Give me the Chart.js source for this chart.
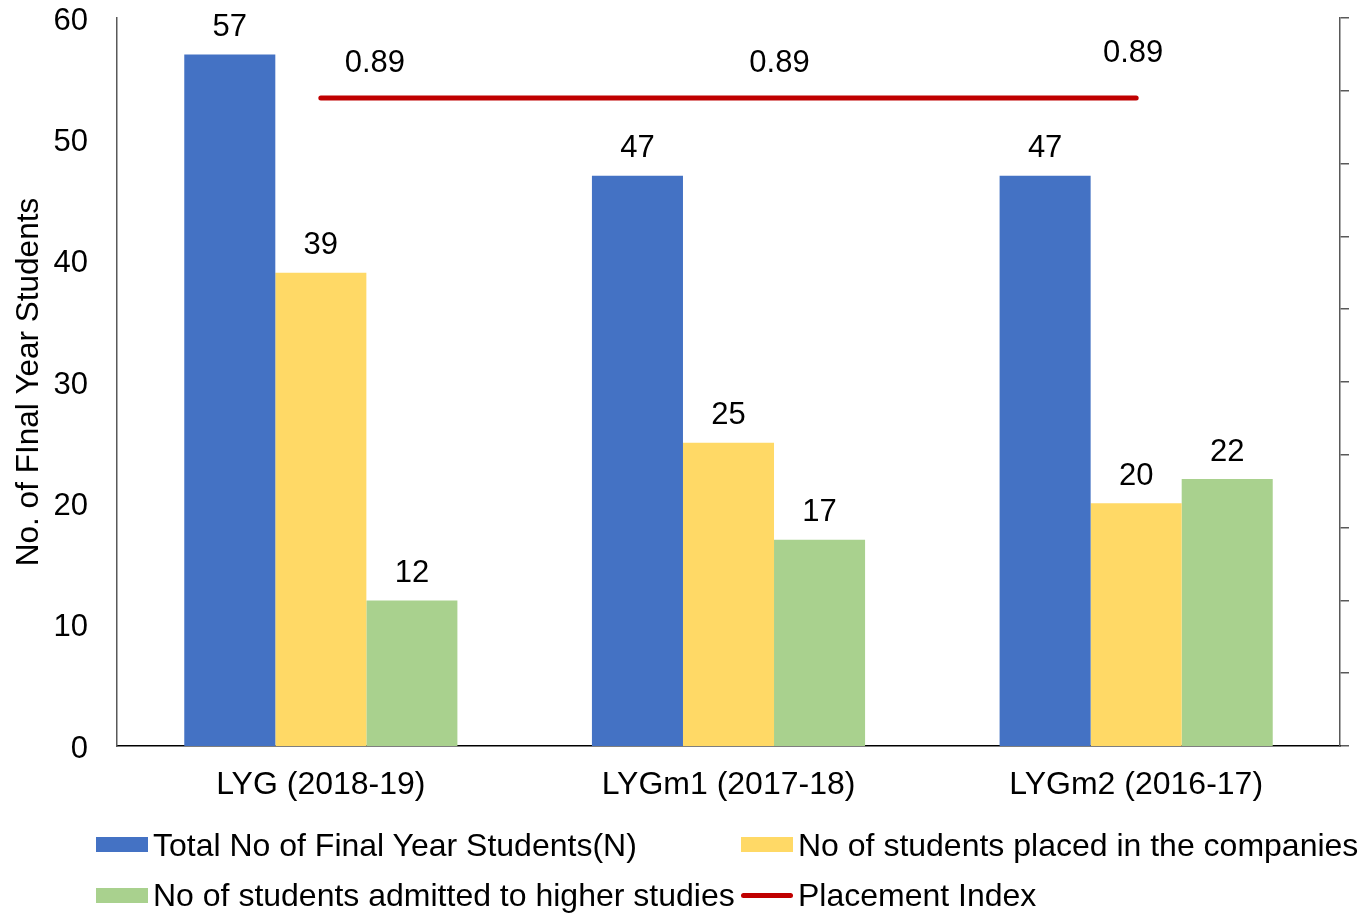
<!DOCTYPE html>
<html>
<head>
<meta charset="utf-8">
<script src="https://cdn.jsdelivr.net/npm/chart.js@4.4.0/dist/chart.umd.min.js"></script>
<style>
  html, body { margin: 0; padding: 0; background: #fff; }
  #wrap { position: relative; width: 1365px; height: 914px; }
  #c { position: absolute; left: 0; top: 0; }
  .leg { position: absolute; font-family: "Liberation Sans", Arial, sans-serif; font-size: 32px; color: #000; white-space: nowrap; line-height: 36px; }
  .box { position: absolute; width: 52px; height: 15px; }
  .ln { position: absolute; width: 52px; height: 5px; border-radius: 3px; }
</style>
</head>
<body>
<div id="wrap">
  <canvas id="c" width="1365" height="914"></canvas>
  <div class="box" style="left:96px;top:837px;background:#4472C4"></div>
  <div class="leg" style="left:153px;top:827px">Total No of Final Year Students(N)</div>
  <div class="box" style="left:741px;top:837px;background:#FFD966"></div>
  <div class="leg" style="left:798px;top:827px">No of students placed in the companies</div>
  <div class="box" style="left:96px;top:888px;background:#A9D18E"></div>
  <div class="leg" style="left:153px;top:877px">No of students admitted to higher studies</div>
  <div class="ln" style="left:741px;top:893px;background:#C00000"></div>
  <div class="leg" style="left:798px;top:877px">Placement Index</div>
</div>
<script>
const categories = ["LYG (2018-19)", "LYGm1 (2017-18)", "LYGm2 (2016-17)"];
const totalStudents = [57, 47, 47];
const placedStudents = [39, 25, 20];
const higherStudies = [12, 17, 22];
const placementIndex = [0.89, 0.89, 0.89];
const seriesNames = [
  "Total No of Final Year Students(N)",
  "No of students placed in the companies",
  "No of students admitted to higher studies",
  "Placement Index"
];

const FONT = '"Liberation Sans", Arial, sans-serif';

// label offsets for the line labels (style/position only)
const lineLabelOffsets = [[54, -35], [51, -35], [-3, -45]];

const labelPlugin = {
  id: 'valueLabels',
  afterDatasetsDraw(chart) {
    const ctx = chart.ctx;
    ctx.save();
    ctx.fillStyle = '#000';
    ctx.font = '31px ' + FONT;
    ctx.textAlign = 'center';
    ctx.textBaseline = 'middle';
    chart.data.datasets.forEach((ds, di) => {
      const meta = chart.getDatasetMeta(di);
      meta.data.forEach((el, i) => {
        const v = ds.data[i];
        if (ds.type === 'line') {
          const o = lineLabelOffsets[i];
          ctx.fillText(v.toFixed(2), el.x + o[0], el.y + o[1]);
        } else {
          ctx.fillText(String(v), el.x, el.y - 27);
        }
      });
    });
    ctx.restore();
  }
};

new Chart(document.getElementById('c'), {
  data: {
    labels: categories,
    datasets: [
      { type: 'bar', label: seriesNames[0], data: totalStudents, backgroundColor: '#4472C4', yAxisID: 'y', order: 1 },
      { type: 'bar', label: seriesNames[1], data: placedStudents, backgroundColor: '#FFD966', yAxisID: 'y', order: 1 },
      { type: 'bar', label: seriesNames[2], data: higherStudies, backgroundColor: '#A9D18E', yAxisID: 'y', order: 1 },
      { type: 'line', label: seriesNames[3], data: placementIndex, borderColor: '#C00000', backgroundColor: '#C00000',
        borderWidth: 5, borderCapStyle: 'round', pointRadius: 0, yAxisID: 'y1', order: 0, tension: 0 }
    ]
  },
  options: {
    responsive: false,
    animation: false,
    devicePixelRatio: 1,
    layout: { padding: { top: 18, left: 0, right: 0, bottom: 0 } },
    datasets: { bar: { categoryPercentage: 0.67, barPercentage: 1.0 } },
    plugins: { legend: { display: false }, tooltip: { enabled: false } },
    scales: {
      x: {
        grid: { display: false, drawTicks: false },
        border: { display: true, color: '#000', width: 1.5 },
        ticks: { color: '#000', font: { family: FONT, size: 32 }, padding: 20, maxRotation: 0 },
        afterFit(s) { s.height = 168; s.paddingLeft = 0; s.paddingRight = 0; }
      },
      y: {
        position: 'left',
        min: 0, max: 60,
        ticks: { stepSize: 10, color: '#000', font: { family: FONT, size: 31 }, padding: 29, labelOffset: 3 },
        grid: { display: false, drawTicks: false },
        border: { display: true, color: '#595959', width: 1.5 },
        title: { display: true, text: 'No. of FInal Year Students', color: '#000', font: { family: FONT, size: 31.5 }, padding: { top: 10, bottom: 0 } },
        afterFit(s) { s.width = 117; s.paddingTop = 0; s.paddingBottom = 0; }
      },
      y1: {
        position: 'right',
        min: 0, max: 1,
        ticks: { stepSize: 0.1, display: false },
        grid: { display: true, drawOnChartArea: false, drawTicks: true, tickLength: 9, color: '#595959', lineWidth: 1.5 },
        border: { display: true, color: '#595959', width: 1.5 },
        afterFit(s) { s.width = 25; s.paddingTop = 0; s.paddingBottom = 0; }
      }
    }
  },
  plugins: [labelPlugin]
});
</script>
</body>
</html>
